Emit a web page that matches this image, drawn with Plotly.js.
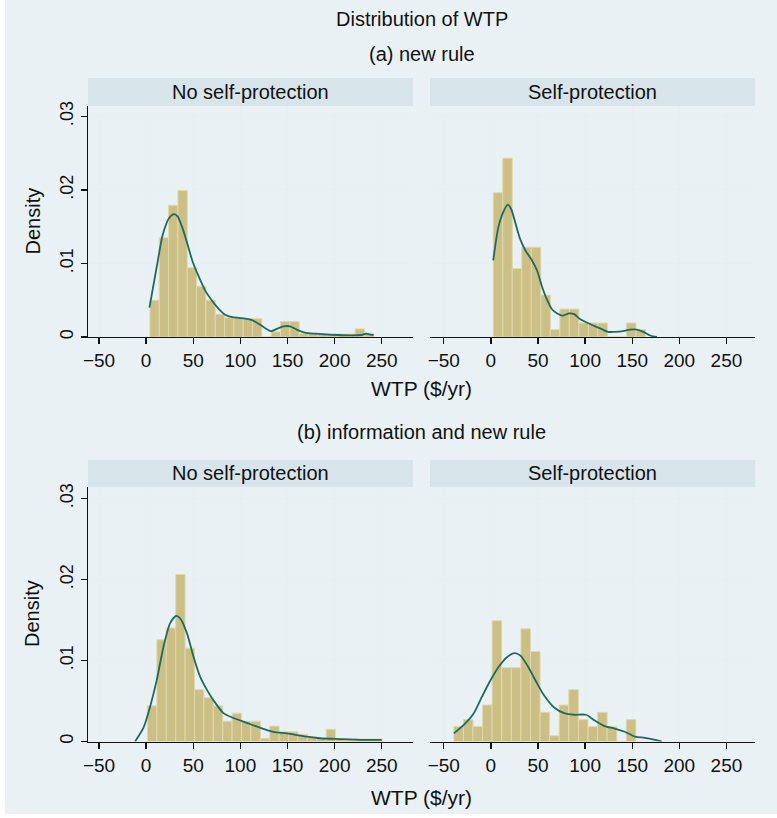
<!DOCTYPE html>
<html>
<head>
<meta charset="utf-8">
<script src="https://cdn.plot.ly/plotly-3.0.1.min.js"></script>
<style>html,body{margin:0;padding:0;background:#fff;}#chart{width:777px;height:818px;}</style>
</head>
<body>
<div id="chart"></div>
<script>
// ---------- DATA ----------
const xTickVals = [-50, 0, 50, 100, 150, 200, 250];
const yTickVals = [0, 0.01, 0.02, 0.03];
const yTickText = ['0', '.01', '.02', '.03'];
const columnLabels = ['No self-protection', 'Self-protection'];
const rowLabels = ['(a) new rule', '(b) information and new rule'];

// (a) new rule, no self-protection
const aNoBinCenters = [8.95, 18.85, 28.75, 38.65, 48.55, 58.45, 68.35, 78.25, 88.15, 98.05, 107.95, 117.85, 127.75, 137.65, 147.55, 157.45, 167.35, 177.25, 187.15, 197.05, 206.95, 216.85, 226.75, 236.65];
const aNoDensity = [0.0050, 0.0135, 0.0179, 0.0199, 0.0094, 0.0069, 0.0050, 0.0031, 0.0026, 0.0026, 0.0025, 0.0025, 0, 0.0007, 0.0021, 0.0021, 0.00045, 0.00045, 0.00045, 0.00045, 0.0004, 0.0004, 0.0011, 0.0005];
const aNoBinWidth = 9.9;
const aNoKdX = [3.5, 12.3, 17.6, 24.6, 29.8, 33.4, 38.6, 43.9, 49.2, 56.2, 63.2, 70.2, 77.2, 84.3, 91.3, 98.3, 105.3, 112.4, 119.4, 126.4, 132.7, 138.7, 145.7, 152.7, 159.8, 168.5, 179.1, 189.6, 203.7, 217.7, 228.2, 233.5, 238.8, 241.5];
const aNoKdY = [0.0040, 0.0103, 0.0139, 0.0162, 0.0167, 0.0164, 0.0148, 0.0126, 0.0103, 0.0081, 0.0062, 0.0049, 0.0038, 0.0030, 0.0027, 0.0026, 0.0025, 0.0023, 0.0018, 0.0012, 0.0008, 0.0011, 0.00145, 0.00145, 0.0010, 0.0006, 0.00045, 0.00036, 0.00027, 0.00023, 0.00027, 0.00045, 0.0003, 0.0003];

// (a) new rule, self-protection
const aSelfBinCenters = [7.55, 17.65, 27.75, 37.85, 47.95, 58.05, 68.15, 78.25, 88.35, 98.45, 108.55, 118.65, 128.75, 138.85, 148.95, 159.05];
const aSelfDensity = [0.0196, 0.0243, 0.0093, 0.0122, 0.0122, 0.0057, 0.0010, 0.0038, 0.0038, 0.0019, 0.0019, 0.0019, 0, 0, 0.0019, 0.0010];
const aSelfBinWidth = 10.1;
const aSelfKdX = [2.5, 5.0, 7.9, 13.2, 17.9, 21.5, 25.8, 31.1, 36.5, 43.7, 49.1, 54.4, 59.8, 65.2, 70.5, 75.9, 83.1, 88.4, 93.8, 101.0, 108.1, 117.1, 124.2, 131.4, 140.4, 147.5, 154.7, 161.8, 169.0, 176.2];
const aSelfKdY = [0.0104, 0.0127, 0.0149, 0.0170, 0.0180, 0.0174, 0.0156, 0.0133, 0.0118, 0.0104, 0.0090, 0.0068, 0.0050, 0.0037, 0.0032, 0.0029, 0.0032, 0.0031, 0.0025, 0.0020, 0.0016, 0.0011, 0.0007, 0.0007, 0.0008, 0.0010, 0.0010, 0.0007, 0.0002, 0];

// (b) information and new rule, no self-protection
const bNoBinCenters = [6.39, 16.37, 26.35, 36.33, 46.31, 56.29, 66.27, 76.25, 86.23, 96.21, 106.19, 116.17, 126.15, 136.13, 146.11, 156.09, 166.07, 176.05, 186.03, 196.01, 205.99, 215.97, 225.95, 235.93, 245.91];
const bNoDensity = [0.0044, 0.01255, 0.0140, 0.0206, 0.0115, 0.0064, 0.0054, 0.0044, 0.0025, 0.0035, 0.0025, 0.0025, 0.0004, 0.0019, 0.0012, 0.0012, 0.0009, 0.0006, 0.0004, 0.0015, 0.0003, 0.0002, 0.0003, 0.0003, 0.0003];
const bNoBinWidth = 9.98;
const bNoKdX = [-11.7, -2.8, 4.2, 11.3, 18.4, 25.5, 31.8, 36.1, 43.2, 50.2, 57.3, 64.4, 71.4, 82.0, 92.6, 106.8, 121.0, 135.1, 149.3, 170.5, 184.7, 205.9, 230.6, 250.0];
const bNoKdY = [0, 0.0017, 0.0043, 0.0076, 0.0117, 0.0146, 0.0155, 0.0152, 0.0134, 0.0105, 0.0080, 0.0064, 0.0051, 0.0035, 0.0029, 0.0023, 0.0017, 0.0012, 0.0010, 0.0006, 0.0004, 0.0003, 0.0002, 0.0002];

// (b) information and new rule, self-protection
const bSelfBinCenters = [-34.2, -24.0, -13.9, -3.7, 6.4, 16.6, 26.8, 37.0, 47.1, 57.3, 67.5, 77.6, 87.8, 98.0, 108.2, 118.3, 128.5, 138.7, 148.8];
const bSelfDensity = [0.00185, 0.0027, 0.00185, 0.0045, 0.0149, 0.0091, 0.0091, 0.0139, 0.0111, 0.0036, 0.0007, 0.0045, 0.0064, 0.0027, 0.00185, 0.0036, 0.00185, 0, 0.0027];
const bSelfBinWidth = 10.17;
const bSelfKdX = [-39.3, -29.3, -18.6, -9.6, -0.7, 8.2, 17.1, 25.0, 31.4, 38.6, 47.5, 56.4, 67.1, 77.9, 88.6, 101.0, 110.0, 120.7, 131.4, 142.1, 152.9, 163.6, 174.3, 181.4];
const bSelfKdY = [0.0010, 0.0020, 0.0034, 0.0055, 0.0075, 0.0092, 0.0104, 0.0109, 0.0106, 0.0094, 0.0075, 0.0057, 0.0042, 0.0035, 0.0033, 0.0033, 0.0026, 0.0019, 0.0016, 0.0012, 0.0006, 0.00045, 0.0002, 0];

// ---------- STYLE ----------
const FONT = 'Liberation Sans, Arial, Helvetica, sans-serif';
const BG = '#eaf1f4';
const STRIP = '#d7e4ea';
const GRID = '#e8eef1';
const BARFILL = '#cbbf85';
const BARLINE = '#e0d8ae';
const KDCOL = '#1f6a60';

function bars(x, y, w, xa, ya) {
  return {type: 'bar', x: x, y: y, width: w, xaxis: xa, yaxis: ya,
    marker: {color: BARFILL, line: {color: BARLINE, width: 1}}, hoverinfo: 'skip'};
}
function kd(x, y, xa, ya) {
  return {type: 'scatter', mode: 'lines', x: x, y: y, xaxis: xa, yaxis: ya,
    line: {color: KDCOL, width: 1.8, shape: 'spline', smoothing: 0.7}, hoverinfo: 'skip'};
}

const data = [
  bars(aNoBinCenters, aNoDensity, aNoBinWidth, 'x', 'y'),
  kd(aNoKdX, aNoKdY, 'x', 'y'),
  bars(aSelfBinCenters, aSelfDensity, aSelfBinWidth, 'x2', 'y2'),
  kd(aSelfKdX, aSelfKdY, 'x2', 'y2'),
  bars(bNoBinCenters, bNoDensity, bNoBinWidth, 'x3', 'y3'),
  kd(bNoKdX, bNoKdY, 'x3', 'y3'),
  bars(bSelfBinCenters, bSelfDensity, bSelfBinWidth, 'x4', 'y4'),
  kd(bSelfKdX, bSelfKdY, 'x4', 'y4')
];

const W = 777, H = 818;
const px = v => v / W;
const py = v => 1 - v / H;

const leftDom = [px(88), px(413)];
const rightDom = [px(430), px(755)];
const topDom = [py(337), py(106)];
const botDom = [py(741.5), py(487)];
const leftRange = [-61.7, 283.2];
const rightRange = [-64.6, 280.3];
const yRange = [0, 0.0314];

function xAxis(dom, rng, anchor) {
  return {domain: dom, range: rng, anchor: anchor, tickvals: xTickVals,
    ticks: 'outside', ticklen: 6, tickwidth: 1.3, tickcolor: '#111',
    showline: true, linecolor: '#111', linewidth: 1.4,
    showgrid: true, gridcolor: GRID, gridwidth: 1, zeroline: false,
    tickfont: {family: FONT, size: 19, color: '#111'}, fixedrange: true};
}
function yAxis(dom, anchor, showLabels) {
  return {domain: dom, range: yRange, anchor: anchor, tickvals: yTickVals,
    ticktext: showLabels ? yTickText : ['', '', '', ''],
    tickangle: -90,
    ticks: showLabels ? 'outside' : '', ticklen: 6, tickwidth: 1.3, tickcolor: '#111',
    showline: showLabels, linecolor: '#111', linewidth: 1.4,
    showgrid: true, gridcolor: GRID, gridwidth: 1, zeroline: false,
    tickfont: {family: FONT, size: 18, color: '#111'}, fixedrange: true};
}

const shapes = [
  {type: 'rect', xref: 'paper', yref: 'paper', x0: px(5), x1: 1, y0: py(814), y1: 1,
    fillcolor: BG, line: {width: 0}, layer: 'below'},
  {type: 'rect', xref: 'paper', yref: 'paper', x0: leftDom[0], x1: leftDom[1], y0: topDom[1], y1: py(78),
    fillcolor: STRIP, line: {width: 0}, layer: 'below'},
  {type: 'rect', xref: 'paper', yref: 'paper', x0: rightDom[0], x1: rightDom[1], y0: topDom[1], y1: py(78),
    fillcolor: STRIP, line: {width: 0}, layer: 'below'},
  {type: 'rect', xref: 'paper', yref: 'paper', x0: leftDom[0], x1: leftDom[1], y0: botDom[1], y1: py(460),
    fillcolor: STRIP, line: {width: 0}, layer: 'below'},
  {type: 'rect', xref: 'paper', yref: 'paper', x0: rightDom[0], x1: rightDom[1], y0: botDom[1], y1: py(460),
    fillcolor: STRIP, line: {width: 0}, layer: 'below'}
];

function ann(text, x, y, size, angle) {
  return {text: text, xref: 'paper', yref: 'paper', x: x, y: y, xanchor: 'center', yanchor: 'middle',
    showarrow: false, textangle: angle || 0, font: {family: FONT, size: size, color: '#111'}};
}
const midX = px(421.5);
const annotations = [
  ann('Distribution of WTP', midX, py(19), 20),
  ann(rowLabels[0], midX, py(54), 20),
  ann(columnLabels[0], (leftDom[0] + leftDom[1]) / 2, py(92), 20),
  ann(columnLabels[1], (rightDom[0] + rightDom[1]) / 2, py(92), 20),
  ann('WTP ($/yr)', midX, py(388), 21),
  ann('Density', px(32), py(221.5), 20, -90),
  ann(rowLabels[1], midX, py(432), 20),
  ann(columnLabels[0], (leftDom[0] + leftDom[1]) / 2, py(473), 20),
  ann(columnLabels[1], (rightDom[0] + rightDom[1]) / 2, py(473), 20),
  ann('WTP ($/yr)', midX, py(797), 21),
  ann('Density', px(32), py(614), 20, -90)
];

const layout = {
  width: W, height: H, margin: {l: 0, r: 0, t: 0, b: 0},
  paper_bgcolor: '#ffffff', plot_bgcolor: '#ffffff', showlegend: false,
  font: {family: FONT, color: '#111'},
  xaxis: xAxis(leftDom, leftRange, 'y'),
  yaxis: yAxis(topDom, 'x', true),
  xaxis2: xAxis(rightDom, rightRange, 'y2'),
  yaxis2: yAxis(topDom, 'x2', false),
  xaxis3: xAxis(leftDom, leftRange, 'y3'),
  yaxis3: yAxis(botDom, 'x3', true),
  xaxis4: xAxis(rightDom, rightRange, 'y4'),
  yaxis4: yAxis(botDom, 'x4', false),
  shapes: shapes,
  annotations: annotations
};

Plotly.newPlot('chart', data, layout, {displayModeBar: false, staticPlot: true});
</script>
</body>
</html>
